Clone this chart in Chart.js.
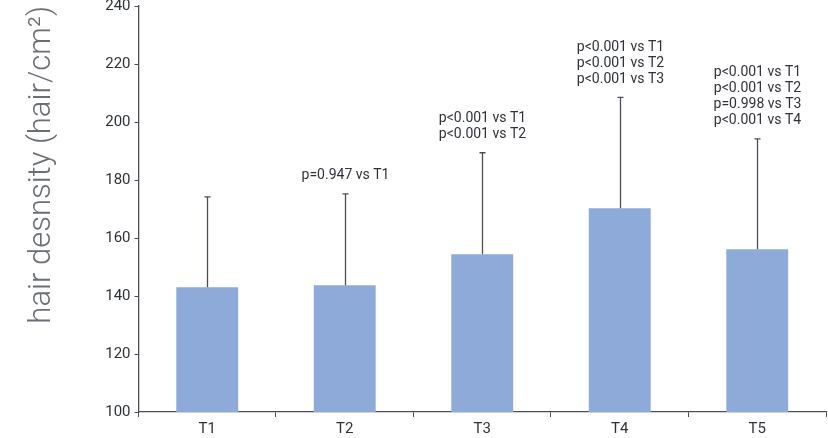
<!DOCTYPE html>
<html lang="en">
<head>
    <meta charset="UTF-8">
    <title>Hair density</title>
    <script src="https://cdn.jsdelivr.net/npm/chart.js"></script>
    <style>
        html, body { margin: 0; padding: 0; background: #fff; }
        #wrap { width: 828px; height: 438px; }
    </style>
</head>
<body>
    <div id="wrap"><canvas id="densityChart" width="828" height="438"></canvas></div>

    <script>
        // datos
        const timepoints = ['T1', 'T2', 'T3', 'T4', 'T5'];
        const meanDensity = [143.0, 143.7, 154.4, 170.3, 156.1];
        const upperError = [174.2, 175.2, 189.4, 208.5, 194.2];
        const pLabels = [
            [],
            ['p=0.947 vs T1'],
            ['p<0.001 vs T1', 'p<0.001 vs T2'],
            ['p<0.001 vs T1', 'p<0.001 vs T2', 'p<0.001 vs T3'],
            ['p<0.001 vs T1', 'p<0.001 vs T2', 'p=0.998 vs T3', 'p<0.001 vs T4']
        ];
        const yTicks = [100, 120, 140, 160, 180, 200, 220, 240];

        const axisColor = '#4a4f57';
        const textColor = '#2e3238';

        // barras de error + textos de p
        const errorBarPlugin = {
            id: 'errorBars',
            afterDatasetsDraw(chart) {
                const ctx = chart.ctx;
                const meta = chart.getDatasetMeta(0);
                const y = chart.scales.y;
                ctx.save();
                ctx.strokeStyle = axisColor;
                ctx.lineWidth = 1.3;
                meta.data.forEach((bar, i) => {
                    const x = Math.round(bar.x) + 0.5;
                    const yTop = y.getPixelForValue(upperError[i]);
                    const yBase = y.getPixelForValue(meanDensity[i]);
                    ctx.beginPath();
                    ctx.moveTo(x, yBase);
                    ctx.lineTo(x, yTop);
                    ctx.moveTo(x - 3, yTop);
                    ctx.lineTo(x + 3, yTop);
                    ctx.stroke();

                    const lines = pLabels[i];
                    ctx.fillStyle = textColor;
                    ctx.font = '14px Roboto, sans-serif';
                    ctx.textAlign = 'center';
                    ctx.textBaseline = 'middle';
                    lines.forEach((txt, k) => {
                        const ty = yTop - 18 - (lines.length - 1 - k) * 16;
                        ctx.fillText(txt, x, ty);
                    });
                });
                ctx.restore();
            }
        };

        new Chart(document.getElementById('densityChart'), {
            type: 'bar',
            data: {
                labels: timepoints,
                datasets: [{
                    data: meanDensity,
                    backgroundColor: '#8eaad9',
                    borderWidth: 0,
                    categoryPercentage: 0.45,
                    barPercentage: 1.0
                }]
            },
            options: {
                responsive: false,
                animation: false,
                devicePixelRatio: 1,
                layout: { padding: { top: 6, right: 2, bottom: -3, left: 24 } },
                plugins: {
                    legend: { display: false },
                    tooltip: { enabled: false }
                },
                scales: {
                    x: {
                        grid: {
                            offset: true,
                            drawOnChartArea: false,
                            drawTicks: true,
                            tickLength: 5,
                            color: axisColor
                        },
                        border: { color: axisColor, width: 1.3 },
                        ticks: {
                            color: textColor,
                            font: { family: 'Roboto', size: 15 },
                            padding: 3
                        }
                    },
                    y: {
                        min: 100,
                        max: 240,
                        afterBuildTicks(scale) {
                            scale.ticks = yTicks.map(v => ({ value: v }));
                        },
                        afterFit(scale) {
                            // el 240 queda medio cortado arriba, como en la figura
                            scale.paddingTop = 0;
                        },
                        grid: {
                            drawOnChartArea: false,
                            drawTicks: true,
                            tickLength: 4,
                            color: axisColor
                        },
                        border: { color: axisColor, width: 1.3 },
                        ticks: {
                            color: textColor,
                            font: { family: 'Roboto', size: 15 },
                            padding: 4
                        },
                        title: {
                            display: true,
                            text: 'hair desnsity (hair/cm²)',
                            color: '#6b6f75',
                            align: 'end',
                            font: { family: 'Roboto', size: 31, weight: '300' },
                            padding: { top: 0, bottom: 40 }
                        }
                    }
                }
            },
            plugins: [errorBarPlugin]
        });
    </script>
</body>
</html>
